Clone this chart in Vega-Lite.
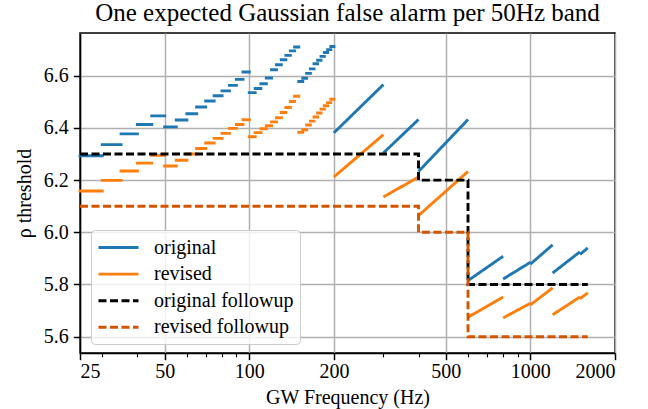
{
  "$schema": "https://vega.github.io/schema/vega-lite/v6.json",
  "width": 535,
  "height": 320,
  "autosize": {"type": "none"},
  "padding": {"left": 80, "top": 33, "right": 33, "bottom": 56},
  "title": {"text": "One expected Gaussian false alarm per 50Hz band", "font": "Liberation Serif", "fontSize": 25, "fontWeight": "normal", "color": "#000", "offset": 7, "anchor": "middle"},
  "config": {
    "font": "Liberation Serif",
    "view": {"stroke": "#000", "strokeWidth": 1.5},
    "axis": {"labelFont": "Liberation Serif", "labelFontSize": 20, "labelColor": "#000", "titleFont": "Liberation Serif", "titleFontSize": 20, "titleFontWeight": "normal", "titleColor": "#000", "domainColor": "#000", "domainWidth": 1.5, "tickColor": "#000", "tickWidth": 1.5, "tickSize": 6.7, "labelPadding": 5, "gridColor": "#b0b0b0", "gridWidth": 1.5, "gridOpacity": 1},
    "legend": {"orient": "none", "legendX": 11, "legendY": 197, "padding": 6, "strokeColor": "#cccccc", "fillColor": "rgba(255,255,255,0.8)", "cornerRadius": 4, "symbolType": "M-2,0H2", "symbolSize": 400, "symbolStrokeWidth": 2.9, "symbolOffset": 10, "labelFont": "Liberation Serif", "labelFontSize": 20, "labelColor": "#000", "rowPadding": 4.6, "labelOffset": 24, "labelLimit": 400}
  },
  "datasets": {
    "dashes": [
      {"s": "original", "f0": 25, "f1": 30, "v": 6.293},
      {"s": "original", "f0": 30, "f1": 35, "v": 6.336},
      {"s": "original", "f0": 35, "f1": 40, "v": 6.377},
      {"s": "original", "f0": 40, "f1": 45, "v": 6.413},
      {"s": "original", "f0": 45, "f1": 50, "v": 6.446},
      {"s": "original", "f0": 50, "f1": 55, "v": 6.404},
      {"s": "original", "f0": 55, "f1": 60, "v": 6.430},
      {"s": "original", "f0": 60, "f1": 65, "v": 6.454},
      {"s": "original", "f0": 65, "f1": 70, "v": 6.480},
      {"s": "original", "f0": 70, "f1": 75, "v": 6.503},
      {"s": "original", "f0": 75, "f1": 80, "v": 6.523},
      {"s": "original", "f0": 80, "f1": 85, "v": 6.542},
      {"s": "original", "f0": 85, "f1": 90, "v": 6.563},
      {"s": "original", "f0": 90, "f1": 95, "v": 6.586},
      {"s": "original", "f0": 95, "f1": 100, "v": 6.614},
      {"s": "original", "f0": 100, "f1": 105, "v": 6.535},
      {"s": "original", "f0": 105, "f1": 110, "v": 6.551},
      {"s": "original", "f0": 110, "f1": 115, "v": 6.569},
      {"s": "original", "f0": 115, "f1": 120, "v": 6.591},
      {"s": "original", "f0": 120, "f1": 125, "v": 6.623},
      {"s": "original", "f0": 125, "f1": 130, "v": 6.642},
      {"s": "original", "f0": 130, "f1": 135, "v": 6.661},
      {"s": "original", "f0": 135, "f1": 140, "v": 6.678},
      {"s": "original", "f0": 140, "f1": 145, "v": 6.695},
      {"s": "original", "f0": 145, "f1": 150, "v": 6.710},
      {"s": "original", "f0": 150, "f1": 155, "v": 6.578},
      {"s": "original", "f0": 155, "f1": 160, "v": 6.590},
      {"s": "original", "f0": 160, "f1": 165, "v": 6.609},
      {"s": "original", "f0": 165, "f1": 170, "v": 6.626},
      {"s": "original", "f0": 170, "f1": 175, "v": 6.646},
      {"s": "original", "f0": 175, "f1": 180, "v": 6.659},
      {"s": "original", "f0": 180, "f1": 185, "v": 6.674},
      {"s": "original", "f0": 185, "f1": 190, "v": 6.689},
      {"s": "original", "f0": 190, "f1": 195, "v": 6.700},
      {"s": "original", "f0": 195, "f1": 200, "v": 6.712},
      {"s": "revised", "f0": 25, "f1": 30, "v": 6.158},
      {"s": "revised", "f0": 30, "f1": 35, "v": 6.199},
      {"s": "revised", "f0": 35, "f1": 40, "v": 6.235},
      {"s": "revised", "f0": 40, "f1": 45, "v": 6.265},
      {"s": "revised", "f0": 45, "f1": 50, "v": 6.295},
      {"s": "revised", "f0": 50, "f1": 55, "v": 6.254},
      {"s": "revised", "f0": 55, "f1": 60, "v": 6.276},
      {"s": "revised", "f0": 60, "f1": 65, "v": 6.300},
      {"s": "revised", "f0": 65, "f1": 70, "v": 6.321},
      {"s": "revised", "f0": 70, "f1": 75, "v": 6.342},
      {"s": "revised", "f0": 75, "f1": 80, "v": 6.360},
      {"s": "revised", "f0": 80, "f1": 85, "v": 6.379},
      {"s": "revised", "f0": 85, "f1": 90, "v": 6.398},
      {"s": "revised", "f0": 90, "f1": 95, "v": 6.413},
      {"s": "revised", "f0": 95, "f1": 100, "v": 6.431},
      {"s": "revised", "f0": 100, "f1": 105, "v": 6.366},
      {"s": "revised", "f0": 105, "f1": 110, "v": 6.382},
      {"s": "revised", "f0": 110, "f1": 115, "v": 6.397},
      {"s": "revised", "f0": 115, "f1": 120, "v": 6.408},
      {"s": "revised", "f0": 120, "f1": 125, "v": 6.423},
      {"s": "revised", "f0": 125, "f1": 130, "v": 6.439},
      {"s": "revised", "f0": 130, "f1": 135, "v": 6.459},
      {"s": "revised", "f0": 135, "f1": 140, "v": 6.478},
      {"s": "revised", "f0": 140, "f1": 145, "v": 6.501},
      {"s": "revised", "f0": 145, "f1": 150, "v": 6.521},
      {"s": "revised", "f0": 150, "f1": 155, "v": 6.383},
      {"s": "revised", "f0": 155, "f1": 160, "v": 6.393},
      {"s": "revised", "f0": 160, "f1": 165, "v": 6.411},
      {"s": "revised", "f0": 165, "f1": 170, "v": 6.426},
      {"s": "revised", "f0": 170, "f1": 175, "v": 6.442},
      {"s": "revised", "f0": 175, "f1": 180, "v": 6.457},
      {"s": "revised", "f0": 180, "f1": 185, "v": 6.472},
      {"s": "revised", "f0": 185, "f1": 190, "v": 6.485},
      {"s": "revised", "f0": 190, "f1": 195, "v": 6.497},
      {"s": "revised", "f0": 195, "f1": 200, "v": 6.510}
    ],
    "ramps": [
      {"s": "original", "g": "o1", "f": 200, "v": 6.381},
      {"s": "original", "g": "o1", "f": 300, "v": 6.566},
      {"s": "original", "g": "o2", "f": 300, "v": 6.304},
      {"s": "original", "g": "o2", "f": 400, "v": 6.432},
      {"s": "original", "g": "o3", "f": 400, "v": 6.233},
      {"s": "original", "g": "o3", "f": 600, "v": 6.432},
      {"s": "original", "g": "o4", "f": 600, "v": 5.815},
      {"s": "original", "g": "o4", "f": 800, "v": 5.908},
      {"s": "original", "g": "o5", "f": 800, "v": 5.821},
      {"s": "original", "g": "o5", "f": 1000, "v": 5.885},
      {"s": "original", "g": "o6", "f": 1000, "v": 5.878},
      {"s": "original", "g": "o6", "f": 1200, "v": 5.952},
      {"s": "original", "g": "o7", "f": 1200, "v": 5.844},
      {"s": "original", "g": "o7", "f": 1500, "v": 5.925},
      {"s": "original", "g": "o8", "f": 1500, "v": 5.915},
      {"s": "original", "g": "o8", "f": 1600, "v": 5.940},
      {"s": "revised", "g": "r1", "f": 200, "v": 6.212},
      {"s": "revised", "g": "r1", "f": 300, "v": 6.374},
      {"s": "revised", "g": "r2", "f": 300, "v": 6.135},
      {"s": "revised", "g": "r2", "f": 400, "v": 6.212},
      {"s": "revised", "g": "r3", "f": 400, "v": 6.064},
      {"s": "revised", "g": "r3", "f": 600, "v": 6.233},
      {"s": "revised", "g": "r4", "f": 600, "v": 5.675},
      {"s": "revised", "g": "r4", "f": 800, "v": 5.752},
      {"s": "revised", "g": "r5", "f": 800, "v": 5.672},
      {"s": "revised", "g": "r5", "f": 1000, "v": 5.728},
      {"s": "revised", "g": "r6", "f": 1000, "v": 5.722},
      {"s": "revised", "g": "r6", "f": 1200, "v": 5.787},
      {"s": "revised", "g": "r7", "f": 1200, "v": 5.684},
      {"s": "revised", "g": "r7", "f": 1500, "v": 5.752},
      {"s": "revised", "g": "r8", "f": 1500, "v": 5.745},
      {"s": "revised", "g": "r8", "f": 1600, "v": 5.768}
    ],
    "followup": [
      {"s": "original followup", "f": 25, "v": 6.3},
      {"s": "original followup", "f": 400, "v": 6.2},
      {"s": "original followup", "f": 600, "v": 5.8},
      {"s": "original followup", "f": 1600, "v": 5.8},
      {"s": "revised followup", "f": 25, "v": 6.1},
      {"s": "revised followup", "f": 400, "v": 6.0},
      {"s": "revised followup", "f": 600, "v": 5.6},
      {"s": "revised followup", "f": 1600, "v": 5.6}
    ]
  },
  "resolve": {"axis": {"x": "independent"}},
  "layer": [
    {
      "data": {"name": "dashes"},
      "mark": {"type": "rule", "strokeWidth": 2.9, "strokeCap": "square"},
      "encoding": {
        "x": {"field": "f0", "type": "quantitative", "scale": {"type": "log", "domain": [25, 2000], "nice": false}, "axis": {"orient": "bottom", "values": [25, 50, 100, 200, 500, 1000, 2000], "format": "d", "grid": true, "title": "GW Frequency (Hz)", "labelPadding": 2, "titlePadding": 6}},
        "x2": {"field": "f1"},
        "y": {"field": "v", "type": "quantitative", "scale": {"domain": [5.5375, 6.7636], "nice": false, "zero": false}, "axis": {"values": [5.6, 5.8, 6.0, 6.2, 6.4, 6.6], "format": ".1f", "grid": true, "title": "ρ threshold", "titlePadding": 9}},
        "color": {"field": "s", "type": "nominal", "scale": {"domain": ["original", "revised", "original followup", "revised followup"], "range": ["#1f77b4", "#ff7f0e", "#000000", "#d45500"]}, "legend": {"title": null}},
        "strokeDash": {"field": "s", "type": "nominal", "scale": {"domain": ["original", "revised", "original followup", "revised followup"], "range": [[1, 0], [1, 0], [8, 3.5], [8, 3.5]]}, "legend": {"title": null}}
      }
    },
    {
      "data": {"name": "ramps"},
      "mark": {"type": "line", "strokeWidth": 2.9},
      "encoding": {
        "x": {"field": "f", "type": "quantitative", "scale": {"type": "log", "domain": [25, 2000], "nice": false}, "axis": null},
        "y": {"field": "v", "type": "quantitative", "scale": {"domain": [5.5375, 6.7636], "nice": false, "zero": false}, "axis": {"values": [5.6, 5.8, 6.0, 6.2, 6.4, 6.6], "format": ".1f", "grid": true, "title": "ρ threshold", "titlePadding": 9}},
        "detail": {"field": "g"},
        "color": {"field": "s", "type": "nominal", "scale": {"domain": ["original", "revised", "original followup", "revised followup"], "range": ["#1f77b4", "#ff7f0e", "#000000", "#d45500"]}, "legend": {"title": null}},
        "strokeDash": {"field": "s", "type": "nominal", "scale": {"domain": ["original", "revised", "original followup", "revised followup"], "range": [[1, 0], [1, 0], [8, 3.5], [8, 3.5]]}, "legend": {"title": null}}
      }
    },
    {
      "data": {"name": "followup"},
      "mark": {"type": "line", "strokeWidth": 2.9, "interpolate": "step-after"},
      "encoding": {
        "x": {"field": "f", "type": "quantitative", "scale": {"type": "log", "domain": [25, 2000], "nice": false}, "axis": {"orient": "bottom", "values": [30, 40, 60, 70, 80, 90, 300, 400, 600, 700, 800, 900], "labels": false, "grid": false, "domain": false, "tickSize": 3.8, "tickWidth": 1.1, "title": null}},
        "y": {"field": "v", "type": "quantitative", "scale": {"domain": [5.5375, 6.7636], "nice": false, "zero": false}, "axis": {"values": [5.6, 5.8, 6.0, 6.2, 6.4, 6.6], "format": ".1f", "grid": true, "title": "ρ threshold", "titlePadding": 9}},
        "color": {"field": "s", "type": "nominal", "scale": {"domain": ["original", "revised", "original followup", "revised followup"], "range": ["#1f77b4", "#ff7f0e", "#000000", "#d45500"]}, "legend": {"title": null}},
        "strokeDash": {"field": "s", "type": "nominal", "scale": {"domain": ["original", "revised", "original followup", "revised followup"], "range": [[1, 0], [1, 0], [8, 3.5], [8, 3.5]]}, "legend": {"title": null}}
      }
    }
  ]
}
